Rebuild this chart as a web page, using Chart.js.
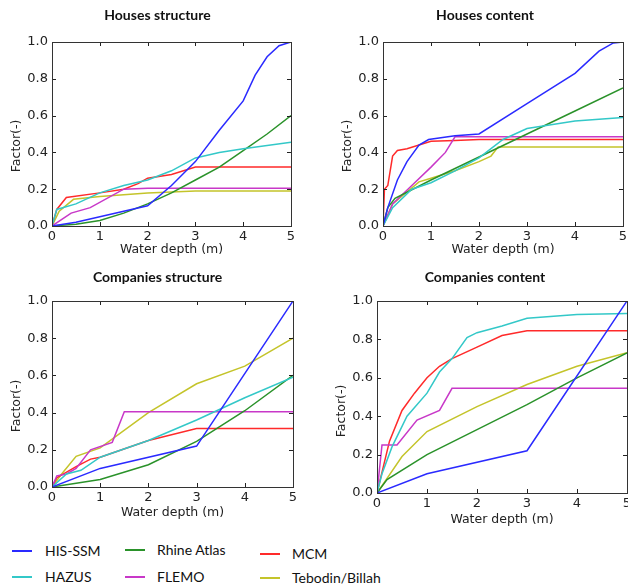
<!DOCTYPE html>
<html>
<head>
<meta charset="utf-8">
<script src="https://cdn.jsdelivr.net/npm/chart.js@4.4.1/dist/chart.umd.min.js"></script>
<style>
  html, body { margin: 0; padding: 0; background: #fff; overflow: hidden; }
  body { width: 628px; height: 587px; position: relative; }
  canvas { position: absolute; }
  .legend { position: absolute; font-family: Lato, "Open Sans", sans-serif; font-size: 14px; color: #111; }
  .legend .sw { position: absolute; height: 2px; width: 20px; }
  .legend .lb { position: absolute; white-space: nowrap; line-height: 16px; }
</style>
</head>
<body>
<canvas id="c1"></canvas>
<canvas id="c2"></canvas>
<canvas id="c3"></canvas>
<canvas id="c4"></canvas>
<div class="legend" id="legend"></div>
<script>
// Series names and colours (matplotlib classic)
const seriesNames = ['HIS-SSM', 'HAZUS', 'Rhine Atlas', 'FLEMO', 'MCM', 'Tebodin/Billah'];
const seriesColors = ['#2a2aff', '#33c8c8', '#2a922a', '#c838c8', '#ff2a2a', '#c4c42a'];

const xTicks = [0, 1, 2, 3, 4, 5];
const yTicks = [0, 0.2, 0.4, 0.6, 0.8, 1.0];

// Houses structure: [depth, factor] pairs
const hsHisSsm = [[0,0],[0.5,0.02],[1,0.05],[1.5,0.08],[2,0.11],[2.5,0.22],[3,0.35],[3.5,0.52],[4,0.68],[4.25,0.82],[4.5,0.92],[4.75,0.98],[5,1.0]];
const hsHazus = [[0,0],[0.1,0.09],[0.5,0.12],[1,0.18],[1.5,0.22],[2,0.25],[2.5,0.3],[3,0.37],[3.5,0.4],[4,0.42],[5,0.455]];
const hsRhine = [[0,0],[0.5,0.01],[1,0.03],[1.5,0.07],[2,0.12],[2.5,0.18],[3,0.25],[3.5,0.32],[4,0.41],[4.5,0.5],[5,0.6]];
const hsFlemo = [[0,0],[0.4,0.07],[0.8,0.1],[1.5,0.2],[2,0.205],[5,0.205]];
const hsMcm = [[0,0],[0.1,0.09],[0.3,0.155],[1,0.18],[1.5,0.2],[1.8,0.23],[2,0.26],[2.5,0.28],[3,0.32],[5,0.32]];
const hsTebodin = [[0,0],[0.15,0.08],[0.45,0.145],[1,0.16],[1.5,0.17],[2,0.18],[3,0.19],[5,0.19]];

// Houses content
const hcHisSsm = [[0,0],[0.1,0.1],[0.3,0.25],[0.5,0.35],[0.75,0.44],[0.95,0.47],[1.5,0.49],[2,0.5],[3,0.665],[4,0.83],[4.5,0.95],[4.8,0.995],[5,1.0]];
const hcHazus = [[0,0],[0.2,0.1],[0.6,0.2],[1,0.235],[1.5,0.3],[2,0.37],[2.5,0.47],[3,0.53],[3.5,0.55],[4,0.57],[5,0.59]];
const hcRhine = [[0,0],[0.1,0.1],[0.25,0.15],[1,0.25],[2,0.375],[3,0.5],[4,0.625],[5,0.75]];
const hcFlemo = [[0,0],[0.2,0.12],[0.6,0.22],[1,0.32],[1.3,0.4],[1.5,0.485],[5,0.485]];
const hcMcm = [[0,0],[0.03,0.2],[0.1,0.22],[0.2,0.38],[0.3,0.41],[0.5,0.42],[1,0.46],[1.5,0.465],[2,0.47],[5,0.47]];
const hcTebodin = [[0,0],[0.2,0.12],[0.75,0.24],[1,0.26],[1.5,0.3],[2,0.35],[2.25,0.38],[2.4,0.43],[5,0.43]];

// Companies structure
const csHisSsm = [[0,0],[1,0.1],[3,0.22],[5,1.0]];
const csHazus = [[0,0],[0.3,0.07],[0.6,0.09],[1,0.16],[2,0.25],[3,0.36],[4,0.48],[5,0.59]];
const csRhine = [[0,0],[1,0.04],[2,0.12],[3,0.245],[4,0.41],[5,0.6]];
const csFlemo = [[0,0],[0.1,0.06],[0.3,0.07],[0.5,0.1],[0.8,0.2],[1.25,0.24],[1.5,0.405],[5,0.405]];
const csMcm = [[0,0],[0.1,0.05],[0.5,0.11],[0.8,0.15],[1,0.16],[2,0.25],[3,0.315],[5,0.315]];
const csTebodin = [[0,0],[0.2,0.07],[0.5,0.165],[1,0.21],[2,0.4],[3,0.555],[4,0.65],[5,0.8]];

// Companies content
const ccHisSsm = [[0,0],[1,0.1],[3,0.22],[5,1.0]];
const ccHazus = [[0,0],[0.1,0.1],[0.3,0.24],[0.6,0.4],[1,0.52],[1.25,0.63],[1.5,0.7],[1.8,0.81],[2,0.835],[2.5,0.87],[3,0.91],[4,0.93],[5,0.935]];
const ccRhine = [[0,0],[0.2,0.07],[1,0.2],[2,0.33],[3,0.46],[4,0.6],[5,0.73]];
const ccFlemo = [[0,0],[0.1,0.25],[0.4,0.25],[0.8,0.38],[1.25,0.43],[1.5,0.545],[5,0.545]];
const ccMcm = [[0,0],[0.25,0.27],[0.5,0.43],[0.75,0.52],[1,0.6],[1.25,0.66],[1.5,0.7],[2,0.76],[2.5,0.82],[3,0.845],[5,0.845]];
const ccTebodin = [[0,0],[0.5,0.19],[1,0.32],[2,0.45],[3,0.565],[4,0.66],[5,0.73]];

const panelTitles = ['Houses structure', 'Houses content', 'Companies structure', 'Companies content'];
const panelSeries = [
    [hsHisSsm, hsHazus, hsRhine, hsFlemo, hsMcm, hsTebodin],
    [hcHisSsm, hcHazus, hcRhine, hcFlemo, hcMcm, hcTebodin],
    [csHisSsm, csHazus, csRhine, csFlemo, csMcm, csTebodin],
    [ccHisSsm, ccHazus, ccRhine, ccFlemo, ccMcm, ccTebodin]
];

// canvas placement and axis box sizes for each panel
// yShift: trailing blanks that push the rotated y title down, as in the source figure
const panelLayout = [
    { left: 0,   top: 0,   width: 315, height: 257, yAxisW: 52, xAxisH: 31, rightPad: 24, titleTop: 6.6, titleBottom: 18.6, yShift: 6 },
    { left: 331, top: 0,   width: 308, height: 257, yAxisW: 52, xAxisH: 31, rightPad: 16, titleTop: 6.6, titleBottom: 18.6, yShift: 6 },
    { left: 0,   top: 260, width: 315, height: 260, yAxisW: 52, xAxisH: 33, rightPad: 22, titleTop: 8.6, titleBottom: 15.6, yShift: 6 },
    { left: 325, top: 260, width: 320, height: 267, yAxisW: 52, xAxisH: 34, rightPad: 18, titleTop: 8.6, titleBottom: 15.6, yShift: 7 }
];

const tickFont = { family: 'DejaVu Sans', size: 13 };
const labelFont = { family: 'DejaVu Sans', size: 12.5 };

// frame and inward ticks on all four sides, like matplotlib classic
const frameTicks = {
    id: 'frameTicks',
    afterDraw(chart) {
        const { ctx, chartArea: a, scales } = chart;
        const len = 4;
        ctx.save();
        ctx.strokeStyle = '#222';
        ctx.lineWidth = 1;
        ctx.beginPath();
        xTicks.forEach(v => {
            const x = Math.round(scales.x.getPixelForValue(v)) + 0.5;
            ctx.moveTo(x, a.bottom); ctx.lineTo(x, a.bottom - len);
            ctx.moveTo(x, a.top); ctx.lineTo(x, a.top + len);
        });
        yTicks.forEach(v => {
            const y = Math.round(scales.y.getPixelForValue(v)) + 0.5;
            ctx.moveTo(a.left, y); ctx.lineTo(a.left + len, y);
            ctx.moveTo(a.right, y); ctx.lineTo(a.right - len, y);
        });
        ctx.stroke();
        ctx.strokeStyle = '#333';
        ctx.strokeRect(Math.round(a.left) + 0.5, Math.round(a.top) + 0.5,
            Math.round(a.right - a.left), Math.round(a.bottom - a.top));
        ctx.restore();
    }
};

function makePanel(i) {
    const L = panelLayout[i];
    const canvas = document.getElementById('c' + (i + 1));
    canvas.width = L.width;
    canvas.height = L.height;
    canvas.style.left = L.left + 'px';
    canvas.style.top = L.top + 'px';
    canvas.style.width = L.width + 'px';
    canvas.style.height = L.height + 'px';

    const datasets = panelSeries[i].map((pts, k) => ({
        label: seriesNames[k],
        data: pts.map(p => ({ x: p[0], y: p[1] })),
        borderColor: seriesColors[k],
        backgroundColor: seriesColors[k],
        borderWidth: 1.5,
        pointRadius: 0,
        tension: 0,
        fill: false
    }));

    new Chart(canvas.getContext('2d'), {
        type: 'line',
        data: { datasets },
        plugins: [frameTicks],
        options: {
            responsive: false,
            animation: false,
            devicePixelRatio: 1,
            layout: { padding: 0 },
            plugins: {
                legend: { display: false },
                tooltip: { enabled: false },
                title: {
                    display: true,
                    text: panelTitles[i],
                    color: '#111',
                    font: { family: 'Lato', size: 14, weight: 'bold' },
                    padding: { top: L.titleTop, bottom: L.titleBottom }
                }
            },
            scales: {
                x: {
                    type: 'linear',
                    min: 0,
                    max: 5,
                    afterBuildTicks: s => { s.ticks = xTicks.map(v => ({ value: v })); },
                    ticks: { font: tickFont, color: '#222', padding: 3, maxRotation: 0, callback: v => String(v) },
                    grid: { display: false, drawTicks: false },
                    border: { display: false },
                    title: { display: true, text: 'Water depth (m)', font: labelFont, color: '#222', padding: 0 },
                    afterFit: s => { s.height = L.xAxisH; }
                },
                y: {
                    type: 'linear',
                    min: 0,
                    max: 1,
                    afterBuildTicks: s => { s.ticks = yTicks.map(v => ({ value: v })); },
                    ticks: { font: tickFont, color: '#222', padding: 4, callback: v => v.toFixed(1) },
                    grid: { display: false, drawTicks: false },
                    border: { display: false },
                    title: { display: true, text: 'Factor(-)' + ' '.repeat(L.yShift), font: labelFont, color: '#222', padding: { top: 9.5, bottom: 0 } },
                    afterFit: s => { s.width = L.yAxisW; }
                },
                // empty right-hand box so the title stays centred on the whole canvas
                yRight: {
                    type: 'linear',
                    position: 'right',
                    min: 0,
                    max: 1,
                    ticks: { display: false },
                    grid: { display: false, drawTicks: false },
                    border: { display: false },
                    afterFit: s => { s.width = L.rightPad; }
                }
            }
        }
    });
}

[0, 1, 2, 3].forEach(makePanel);

// shared legend, laid out in three columns of two rows
const legendCols = [[0, 1], [2, 3], [4, 5]];
const legendColX = [12, 125, 260];
const legendTextX = [45, 157, 292];
const legendRowY = [[551, 577], [550, 577], [554, 578]];
const legend = document.getElementById('legend');
legendCols.forEach((col, c) => {
    col.forEach((k, r) => {
        const y = legendRowY[c][r];
        const sw = document.createElement('div');
        sw.className = 'sw';
        sw.style.left = legendColX[c] + 'px';
        sw.style.top = (y - 1) + 'px';
        sw.style.background = seriesColors[k];
        legend.appendChild(sw);
        const lb = document.createElement('div');
        lb.className = 'lb';
        lb.style.left = legendTextX[c] + 'px';
        lb.style.top = (y - 8) + 'px';
        lb.textContent = seriesNames[k];
        legend.appendChild(lb);
    });
});
</script>
</body>
</html>
